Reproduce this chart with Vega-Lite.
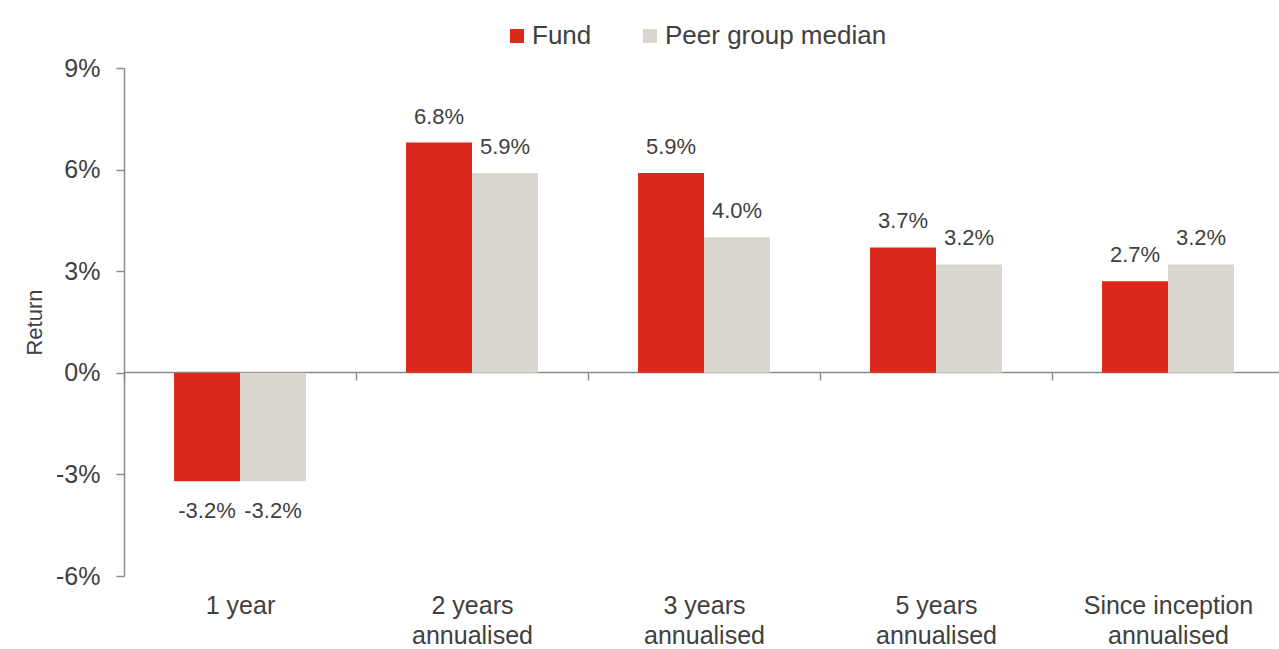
{
  "$schema": "https://vega.github.io/schema/vega-lite/v6.json",
  "width": 1160,
  "height": 508,
  "autosize": {"type": "none"},
  "padding": {"left": 124, "top": 68, "right": 0, "bottom": 73},
  "background": "white",
  "config": {
    "view": {"stroke": null},
    "font": "Liberation Sans",
    "axis": {"labelColor": "#404040", "titleColor": "#404040", "labelFont": "Liberation Sans", "titleFont": "Liberation Sans"}
  },
  "data": {
    "values": [
      {"period": "1 year", "series": "Fund", "value": -3.2},
      {"period": "1 year", "series": "Peer group median", "value": -3.2},
      {"period": "2 years|annualised", "series": "Fund", "value": 6.8},
      {"period": "2 years|annualised", "series": "Peer group median", "value": 5.9},
      {"period": "3 years|annualised", "series": "Fund", "value": 5.9},
      {"period": "3 years|annualised", "series": "Peer group median", "value": 4.0},
      {"period": "5 years|annualised", "series": "Fund", "value": 3.7},
      {"period": "5 years|annualised", "series": "Peer group median", "value": 3.2},
      {"period": "Since inception|annualised", "series": "Fund", "value": 2.7},
      {"period": "Since inception|annualised", "series": "Peer group median", "value": 3.2}
    ]
  },
  "transform": [
    {"calculate": "replace(format(datum.value, '.1f'), '\u2212', '-') + '%'", "as": "label"}
  ],
  "encoding": {
    "x": {
      "field": "period",
      "type": "nominal",
      "sort": null,
      "scale": {"paddingInner": 0, "paddingOuter": 0},
      "axis": {
        "title": null,
        "orient": "bottom",
        "offset": -204,
        "labelAngle": 0,
        "labelExpr": "split(datum.label, '|')",
        "labelFontSize": 25,
        "labelLineHeight": 30,
        "labelPadding": 213,
        "labelLimit": 400,
        "tickBand": "extent",
        "tickSize": 8,
        "tickColor": "#8c8c8c",
        "tickWidth": 1.5,
        "domainColor": "#8c8c8c",
        "domainWidth": 1.5,
        "grid": false
      }
    },
    "xOffset": {
      "field": "series",
      "type": "nominal",
      "scale": {"paddingInner": 0, "paddingOuter": 0.758}
    },
    "y": {
      "field": "value",
      "type": "quantitative",
      "scale": {"domain": [-6, 9], "nice": false, "zero": false},
      "axis": {
        "title": "Return",
        "titleFontSize": 22,
        "titleFontWeight": "normal",
        "titlePadding": 9,
        "values": [-6, -3, 0, 3, 6, 9],
        "labelExpr": "datum.value + '%'",
        "labelFontSize": 25,
        "labelPadding": 16,
        "tickSize": 8,
        "tickColor": "#8c8c8c",
        "tickWidth": 1.5,
        "domainColor": "#8c8c8c",
        "domainWidth": 1.5,
        "grid": false
      }
    }
  },
  "layer": [
    {
      "mark": {"type": "bar"},
      "encoding": {
        "color": {
          "field": "series",
          "type": "nominal",
          "scale": {"domain": ["Fund", "Peer group median"], "range": ["#DA291C", "#D9D6D0"]},
          "legend": {
            "title": null,
            "orient": "none",
            "direction": "horizontal",
            "legendX": 380,
            "legendY": -45,
            "symbolType": "square",
            "symbolSize": 196,
            "symbolStrokeWidth": 0,
            "labelFontSize": 26,
            "labelColor": "#404040",
            "labelFont": "Liberation Sans",
            "labelOffset": 2,
            "labelLimit": 400,
            "columnPadding": 45
          }
        }
      }
    },
    {
      "transform": [{"filter": "datum.value >= 0"}],
      "mark": {"type": "text", "baseline": "bottom", "dy": -14, "fontSize": 22, "font": "Liberation Sans", "color": "#404040"},
      "encoding": {"text": {"field": "label", "type": "nominal"}}
    },
    {
      "transform": [{"filter": "datum.value < 0"}],
      "mark": {"type": "text", "baseline": "top", "dy": 20, "fontSize": 22, "font": "Liberation Sans", "color": "#404040"},
      "encoding": {"text": {"field": "label", "type": "nominal"}}
    }
  ]
}
